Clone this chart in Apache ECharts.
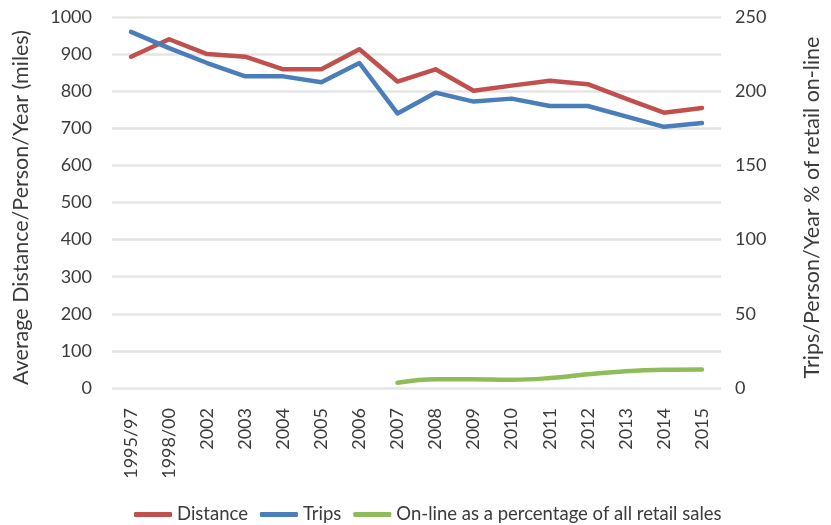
<!DOCTYPE html>
<html>
<head>
<meta charset="utf-8">
<script src="https://cdn.jsdelivr.net/npm/echarts@6/dist/echarts.min.js"></script>
<style>
  html, body { margin: 0; padding: 0; background: #fff; }
  #chart { width: 831px; height: 525px; }
</style>
</head>
<body>
<div id="chart"></div>
<script>
// Survey years
const years = ['1995/97', '1998/00', '2002', '2003', '2004', '2005', '2006', '2007',
  '2008', '2009', '2010', '2011', '2012', '2013', '2014', '2015'];

// Average shopping distance per person per year (miles) - left axis
const distance = [893, 940, 900, 893, 859, 859, 913, 826, 859, 801, 815, 828, 819, 780, 742, 755];

// Shopping trips per person per year - right axis
const trips = [240, 229, 219, 210, 210, 206, 219, 185, 199, 193, 195, 190, 190, 183, 176, 178.5];

// On-line sales as a percentage of all retail sales - right axis
const online = [null, null, null, null, null, null, null, 3.6, 5.9, 5.9, 5.5, 6.7, 9.2, 11.3, 12.3, 12.5];

// Axis tick settings
const leftMax = 1000, leftStep = 100;
const rightMax = 250, rightStep = 50;

const font = 'Lato, "Open Sans", sans-serif';
const textColor = '#3b3b3b';

const chart = echarts.init(document.getElementById('chart'), null, { renderer: 'canvas' });

chart.setOption({
  animation: false,
  textStyle: { fontFamily: font },
  grid: { left: 112, right: 106, top: 17, bottom: 137 },
  legend: {
    bottom: -4,
    left: 129,
    itemWidth: 38,
    itemHeight: 5,
    itemGap: 12,
    icon: 'roundRect',
    textStyle: { fontFamily: font, fontSize: 18.5, color: textColor },
    data: ['Distance', 'Trips', 'On-line as a percentage of all retail sales']
  },
  xAxis: {
    type: 'category',
    data: years,
    boundaryGap: true,
    axisLine: { show: false },
    axisTick: { show: false },
    axisLabel: { rotate: 90, margin: 20, fontSize: 18, color: textColor, fontFamily: font }
  },
  yAxis: [
    {
      type: 'value', min: 0, max: leftMax, interval: leftStep,
      name: 'Average Distance/Person/Year (miles)',
      nameLocation: 'middle', nameGap: 80,
      nameTextStyle: { fontSize: 21.5, color: textColor, fontFamily: font, padding: [0, 10, 0, 0] },
      axisLine: { show: false }, axisTick: { show: false },
      axisLabel: { margin: 20, fontSize: 18, color: textColor, fontFamily: font, formatter: v => String(v) },
      splitLine: { lineStyle: { color: '#e4e4e4', width: 2.5 } }
    },
    {
      type: 'value', min: 0, max: rightMax, interval: rightStep,
      name: 'Trips/Person/Year % of retail on-line',
      nameLocation: 'middle', nameGap: 80,
      nameTextStyle: { fontSize: 21.5, color: textColor, fontFamily: font, padding: [0, 10, 0, 0] },
      axisLine: { show: false }, axisTick: { show: false },
      axisLabel: { margin: 14, fontSize: 18, color: textColor, fontFamily: font, formatter: v => String(v) },
      splitLine: { show: false }
    }
  ],
  series: [
    {
      name: 'Distance', type: 'line', yAxisIndex: 0, data: distance,
      symbol: 'none', color: '#c0504d',
      lineStyle: { width: 4.5, color: '#c0504d', cap: 'round', join: 'round' }
    },
    {
      name: 'Trips', type: 'line', yAxisIndex: 1, data: trips,
      symbol: 'none', color: '#4a7ebb',
      lineStyle: { width: 4.5, color: '#4a7ebb', cap: 'round', join: 'round' }
    },
    {
      name: 'On-line as a percentage of all retail sales', type: 'line', yAxisIndex: 1, data: online,
      symbol: 'none', smooth: 0.4, color: '#8fbc5a',
      lineStyle: { width: 4.5, color: '#8fbc5a', cap: 'round', join: 'round' }
    }
  ]
});
</script>
</body>
</html>
